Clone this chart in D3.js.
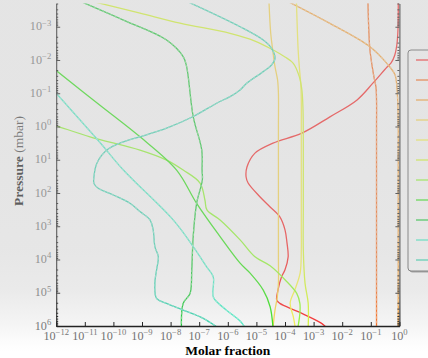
<!DOCTYPE html>
<html>
<head>
<meta charset="utf-8">
<script src="https://cdn.jsdelivr.net/npm/d3@7"></script>
<style>
  html, body { margin: 0; padding: 0; background: #fff; }
  svg { display: block; }
</style>
</head>
<body>
<svg id="chart" width="428" height="358"></svg>
<script>
// Vertical abundance profiles: each point is [log10 pressure (mbar), log10 molar fraction].
const profileRed = [
  [-3.75, -0.04], [-2.90, -0.05], [-2.45, -0.09], [-2.15, -0.16], [-1.91, -0.29], [-1.79, -0.43],
  [-1.31, -0.92], [-0.80, -1.48], [-0.29, -2.43], [0.20, -3.41], [0.50, -4.42], [0.80, -5.05],
  [1.22, -5.33], [1.52, -5.36], [1.70, -5.29], [2.12, -4.87], [2.42, -4.52], [2.72, -4.18],
  [3.11, -4.00], [3.50, -3.93], [3.92, -3.89], [4.31, -4.00], [4.52, -4.12], [4.90, -4.24],
  [5.22, -4.29], [5.32, -4.18], [5.57, -3.54], [5.92, -2.72], [6.05, -2.55]
];
const profileOrange = [
  [-3.75, -1.10], [-2.90, -1.07], [-2.30, -1.03], [-1.80, -0.95], [-1.49, -0.89], [-1.19, -0.82],
  [-0.80, -0.80], [0.00, -0.80], [1.00, -0.80], [2.00, -0.80], [3.00, -0.80], [4.00, -0.80],
  [5.00, -0.80], [6.05, -0.80]
];
const profileTan = [
  [-3.75, -3.88], [-3.10, -2.43], [-2.40, -1.03], [-1.90, -0.44], [-1.55, -0.15], [-1.20, -0.09],
  [-0.80, -0.06], [0.00, -0.04], [1.00, -0.04], [2.00, -0.04], [3.00, -0.04], [4.00, -0.04],
  [5.00, -0.04], [6.05, -0.04]
];
const profileGold = [
  [-3.75, -4.56], [-2.81, -4.50], [-2.30, -4.43], [-1.80, -4.35], [-1.40, -4.26], [-1.00, -4.23],
  [0.00, -4.23], [1.00, -4.23], [2.00, -4.23], [3.00, -4.23], [4.00, -4.23], [4.71, -4.23],
  [5.13, -4.27], [5.52, -4.35], [6.05, -4.42]
];
const profileYellow = [
  [-3.75, -3.60], [-2.30, -3.54], [-1.80, -3.50], [-1.30, -3.45], [-0.80, -3.43], [0.00, -3.43],
  [1.00, -3.43], [2.00, -3.43], [3.00, -3.43], [3.71, -3.43], [4.40, -3.47], [4.90, -3.65],
  [5.31, -3.82], [5.72, -3.71], [6.05, -3.64]
];
const profilePale = [
  [-3.75, -10.68], [-3.41, -9.07], [-3.11, -7.67], [-2.80, -5.92], [-2.57, -5.05], [-2.30, -4.41],
  [-2.09, -4.00], [-1.90, -3.71], [-1.50, -3.50], [-1.10, -3.41], [-0.50, -3.37], [0.50, -3.36],
  [1.50, -3.36], [2.50, -3.36], [3.71, -3.36], [4.71, -3.30], [5.31, -3.19], [6.05, -3.19]
];
const profileLightGreen = [
  [-0.11, -12.35], [-0.02, -12.00], [0.31, -10.82], [0.71, -9.07], [1.01, -8.14], [1.31, -7.56],
  [1.70, -6.97], [2.21, -6.80], [2.51, -6.73], [2.81, -6.27], [3.41, -5.57], [3.92, -5.05],
  [4.19, -4.52], [4.61, -4.00], [5.02, -3.59], [5.32, -3.48], [5.62, -3.48], [6.05, -3.55]
];
const profileGreen = [
  [-1.94, -12.39], [-1.68, -12.00], [-0.64, -10.47], [0.31, -9.07], [1.31, -7.79], [2.31, -7.09],
  [3.31, -6.27], [4.11, -5.57], [4.41, -5.22], [4.92, -4.76], [5.42, -4.52], [6.05, -4.42]
];
const profileMedGreen = [
  [-3.75, -11.12], [-3.20, -9.65], [-2.60, -8.14], [-2.10, -7.56], [-1.80, -7.44], [-0.30, -7.21],
  [0.71, -6.91], [1.31, -6.90], [1.61, -6.89], [2.31, -7.09], [3.31, -7.21], [4.31, -7.26],
  [5.02, -7.32], [5.32, -7.56], [6.05, -7.62]
];
const profileMint = [
  [-1.38, -12.39], [-1.00, -12.00], [0.48, -10.47], [1.31, -9.65], [2.81, -7.91], [3.61, -7.21],
  [4.22, -6.74], [4.52, -6.51], [5.12, -6.51], [5.31, -6.34], [5.61, -5.92], [5.85, -5.57],
  [6.05, -5.40]
];
const profileTeal = [
  [-3.75, -7.40], [-3.00, -5.57], [-2.60, -4.76], [-2.35, -4.47], [-2.05, -4.35], [-1.85, -4.47],
  [-1.65, -4.76], [-1.30, -5.34], [-1.10, -5.57], [-0.90, -5.92], [-0.70, -6.39], [-0.30, -7.21],
  [0.05, -8.14], [0.31, -9.07], [0.46, -9.65], [0.71, -10.23], [1.11, -10.58], [1.51, -10.68],
  [1.71, -10.68], [1.86, -10.53], [2.06, -10.00], [2.31, -9.42], [2.56, -9.07], [2.81, -8.72],
  [3.11, -8.61], [3.61, -8.55], [3.92, -8.43], [4.31, -8.49], [4.71, -8.55], [5.17, -8.49],
  [5.32, -8.14], [5.52, -7.56], [5.77, -6.86], [6.05, -6.35]
];

// Series in legend order, with line colours and whether a dashed companion run is drawn.
const seriesData = [profileRed, profileOrange, profileTan, profileGold, profileYellow, profilePale,
  profileLightGreen, profileGreen, profileMedGreen, profileMint, profileTeal];
const seriesColors = ["#ff1414", "#ff5c00", "#fe9a1f", "#fed73e", "#fcf83e", "#d7fe1f",
  "#8afe1f", "#1fe700", "#00c81f", "#30f0c0", "#20d4a8"];
const seriesDashed = [false, true, true, false, false, false, false, false, true, true, true];

// Axis tick exponents
const xExponents = d3.range(-12, 1);
const yExponents = d3.range(-3, 7);

const W = 428, H = 358;
const plot = { left: 56.2, right: 399.4, top: 3.5, bottom: 326 };
const serif = "'Liberation Serif', 'DejaVu Serif', serif";

const svg = d3.select("#chart");
const defs = svg.append("defs");

defs.append("clipPath").attr("id", "plotClip")
  .append("rect")
  .attr("x", plot.left).attr("y", plot.top)
  .attr("width", plot.right - plot.left).attr("height", plot.bottom - plot.top);

// Haze that greys the figure and fades out towards the bottom edge
const haze = defs.append("linearGradient").attr("id", "haze")
  .attr("gradientUnits", "userSpaceOnUse")
  .attr("x1", 0).attr("y1", 0).attr("x2", 0).attr("y2", H);
[[0, 0.48], [150, 0.48], [250, 0.45], [290, 0.38], [310, 0.27], [326, 0.18], [340, 0.07], [352, 0]]
  .forEach(([py, a]) => haze.append("stop")
    .attr("offset", py / H).attr("stop-color", "rgb(200,200,200)").attr("stop-opacity", a));

svg.append("rect").attr("width", W).attr("height", H).attr("fill", "#fff");

const x = d3.scaleLog().domain([1e-12, 1]).range([plot.left, plot.right]);
const y = d3.scaleLog().domain([2e-4, 1e6]).range([plot.top, plot.bottom]);

const line = d3.line()
  .x(d => x(Math.pow(10, d[1])))
  .y(d => y(Math.pow(10, d[0])))
  .curve(d3.curveCatmullRom.alpha(0.5));

// Profiles
const lines = svg.append("g").attr("clip-path", "url(#plotClip)");
seriesData.forEach((data, i) => {
  lines.append("path")
    .attr("d", line(data))
    .attr("fill", "none")
    .attr("stroke", seriesColors[i])
    .attr("stroke-width", 1.3)
    .attr("stroke-linejoin", "round");
});
seriesData.forEach((data, i) => {
  if (!seriesDashed[i]) return;
  lines.append("path")
    .attr("d", line(data))
    .attr("fill", "none")
    .attr("stroke", d3.interpolateRgb(seriesColors[i], "#ffffff")(0.4))
    .attr("stroke-width", 1.2)
    .attr("stroke-dasharray", "2.5,2");
});

// Axes (ticks point into the plot)
const yMajor = yExponents.map(e => Math.pow(10, e));
const yMinor = [];
for (let e = -4; e <= 5; e++) {
  for (let m = 2; m <= 9; m++) {
    const v = m * Math.pow(10, e);
    if (v >= 2e-4 && v <= 1e6) yMinor.push(v);
  }
}
const xMajor = xExponents.map(e => Math.pow(10, e));

function styleAxis(g, width) {
  g.selectAll("path.domain").attr("stroke", "#000").attr("stroke-width", width);
  g.selectAll(".tick line").attr("stroke", "#000").attr("stroke-width", 1);
  g.selectAll(".tick text").remove();
}

svg.append("g").attr("transform", `translate(${plot.left},0)`)
  .call(d3.axisLeft(y).tickValues(yMajor).tickSizeInner(-4).tickSizeOuter(0))
  .call(g => styleAxis(g, 1.1));
svg.append("g").attr("transform", `translate(${plot.left},0)`)
  .call(d3.axisLeft(y).tickValues(yMinor).tickSizeInner(-2).tickSizeOuter(0))
  .call(g => { styleAxis(g, 0); g.select("path.domain").remove(); });
svg.append("g").attr("transform", `translate(${plot.right},0)`)
  .call(d3.axisRight(y).tickValues(yMajor).tickSizeInner(-4).tickSizeOuter(0))
  .call(g => styleAxis(g, 1.1));
svg.append("g").attr("transform", `translate(${plot.right},0)`)
  .call(d3.axisRight(y).tickValues(yMinor).tickSizeInner(-2).tickSizeOuter(0))
  .call(g => { styleAxis(g, 0); g.select("path.domain").remove(); });
svg.append("g").attr("transform", `translate(0,${plot.bottom})`)
  .call(d3.axisBottom(x).tickValues(xMajor).tickSizeInner(-4).tickSizeOuter(0))
  .call(g => styleAxis(g, 1.3));

// Tick labels as powers of ten
function powerLabel(sel, exp) {
  sel.append("tspan").text("10");
  sel.append("tspan").attr("dy", -4.6).attr("font-size", 8.6)
    .text(exp < 0 ? "\u2212" + Math.abs(exp) : String(exp));
}
xExponents.forEach(e => {
  svg.append("text")
    .attr("x", x(Math.pow(10, e))).attr("y", plot.bottom + 14)
    .attr("text-anchor", "middle")
    .attr("font-family", serif).attr("font-size", 12.2).attr("fill", "#6a6a6a")
    .call(s => powerLabel(s, e));
});
yExponents.forEach(e => {
  svg.append("text")
    .attr("x", plot.left - 5).attr("y", y(Math.pow(10, e)) + 3.6)
    .attr("text-anchor", "end")
    .attr("font-family", serif).attr("font-size", 12.2).attr("fill", "#6a6a6a")
    .call(s => powerLabel(s, e));
});

// Axis titles
svg.append("text")
  .attr("x", (plot.left + plot.right) / 2).attr("y", 355)
  .attr("text-anchor", "middle")
  .attr("font-family", serif).attr("font-size", 13.5).attr("font-weight", "bold")
  .attr("fill", "#000")
  .text("Molar fraction");
const yTitle = svg.append("text")
  .attr("transform", "translate(23,161) rotate(-90)")
  .attr("text-anchor", "middle")
  .attr("font-family", serif).attr("font-size", 13.5).attr("fill", "#000");
yTitle.append("tspan").attr("font-weight", "bold").text("Pressure");
yTitle.append("tspan").attr("fill", "#333").text(" (mbar)");

// Legend frame with shadow and line samples
const legend = svg.append("g");
legend.append("rect")
  .attr("x", 409.5).attr("y", 51.5).attr("width", 60).attr("height", 221).attr("rx", 3)
  .attr("fill", "#8a8a8a");
legend.append("rect")
  .attr("x", 408).attr("y", 50).attr("width", 60).attr("height", 221).attr("rx", 3)
  .attr("fill", "#fff").attr("stroke", "#555").attr("stroke-width", 1);
seriesColors.forEach((c, i) => {
  legend.append("line")
    .attr("x1", 416).attr("x2", 446)
    .attr("y1", 60 + 20 * i).attr("y2", 60 + 20 * i)
    .attr("stroke", c).attr("stroke-width", 1.3);
});

// Haze layer on top of everything
svg.append("rect").attr("width", W).attr("height", H)
  .attr("fill", "url(#haze)").attr("pointer-events", "none");
</script>
</body>
</html>
